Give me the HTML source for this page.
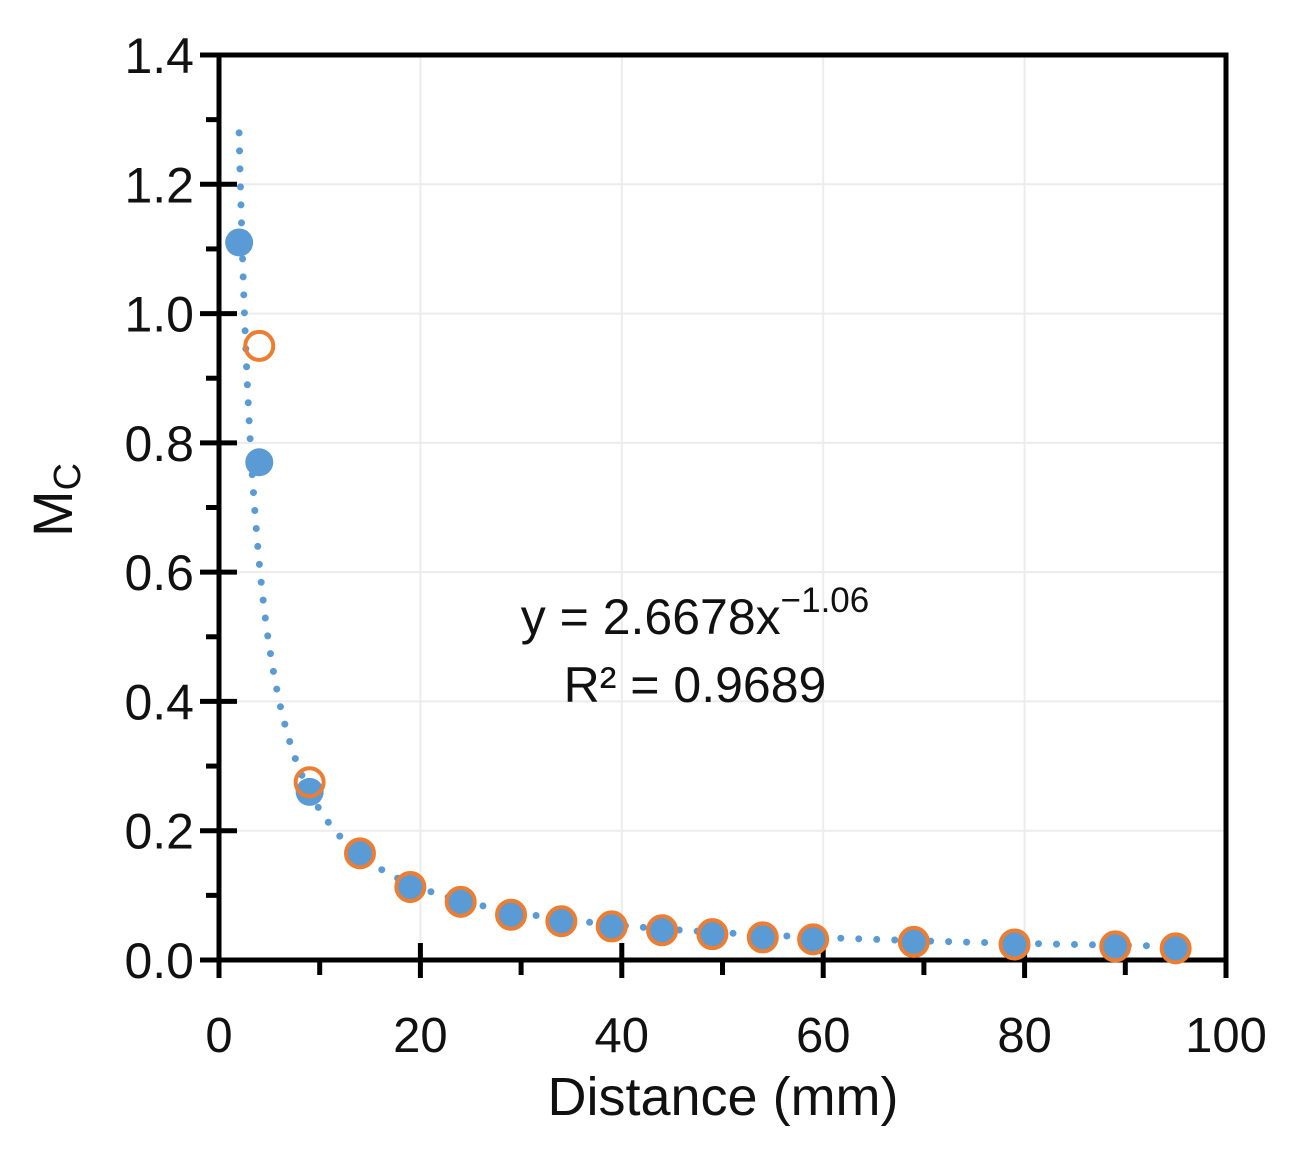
<!DOCTYPE html>
<html><head><meta charset="utf-8"><style>
body{margin:0;background:#fff;}
svg text{font-family:"Liberation Sans","DejaVu Sans",sans-serif;fill:#111;}
</style></head><body>
<svg id="chart" width="1301" height="1157" viewBox="0 0 1301 1157" xmlns="http://www.w3.org/2000/svg">
<g id="grid"></g>
<g id="axes"></g>
<path id="trend" fill="none" stroke="#5b9bd5" stroke-width="7" stroke-linecap="round" stroke-dasharray="0 18"/>
<g id="pts"></g>
<text x="695" y="634" font-size="50" text-anchor="middle">y = 2.6678x<tspan dy="-22" font-size="35">−1.06</tspan></text>
<text x="695" y="702" font-size="50" text-anchor="middle">R² = 0.9689</text>
<text x="723" y="1115" font-size="54" text-anchor="middle">Distance (mm)</text>
<text transform="translate(72,500) rotate(-90)" font-size="56" text-anchor="middle">M<tspan font-size="38" dy="8">C</tspan></text>
</svg>
<script>
const xTicks=[0,20,40,60,80,100];
const yTicks=[0,0.2,0.4,0.6,0.8,1.0,1.2,1.4];
const blueX=[2,4,9,14,19,24,29,34,39,44,49,54,59,69,79,89,95];
const blueY=[1.11,0.77,0.26,0.165,0.11,0.088,0.07,0.06,0.05,0.046,0.04,0.036,0.032,0.027,0.024,0.021,0.018];
const orangeX=[4,9,14,19,24,29,34,39,44,49,54,59,69,79,89,95];
const orangeY=[0.95,0.275,0.165,0.113,0.09,0.07,0.06,0.052,0.046,0.04,0.035,0.032,0.028,0.024,0.021,0.018];
const fitA=2.6678, fitB=-1.06;
const X0=219,X1=1226,Y0=960,Y1=55;
const sx=v=>X0+(v/100)*(X1-X0);
const sy=v=>Y0-(v/1.4)*(Y0-Y1);
const NS="http://www.w3.org/2000/svg";
function mk(tag,attrs,parent){const e=document.createElementNS(NS,tag);for(const k in attrs)e.setAttribute(k,attrs[k]);parent.appendChild(e);return e;}
const grid=document.getElementById('grid'),axes=document.getElementById('axes'),pts=document.getElementById('pts');
xTicks.forEach(t=>{if(t>0&&t<100){const l=mk('line',{x1:sx(t),x2:sx(t),y1:Y1,y2:Y0,stroke:'#ececec','stroke-width':2},grid);

}});
yTicks.forEach(t=>{if(t>0&&t<1.4){const l=mk('line',{x1:X0,x2:X1,y1:sy(t),y2:sy(t),stroke:'#ececec','stroke-width':2},grid);

}});
mk('rect',{x:X0,y:Y1,width:X1-X0,height:Y0-Y1,fill:'none',stroke:'#000','stroke-width':5},axes);
mk('line',{x1:200,x2:X0,y1:Y1,y2:Y1,stroke:'#000','stroke-width':5},axes);
mk('line',{x1:200,x2:X0,y1:Y0,y2:Y0,stroke:'#000','stroke-width':5},axes);
mk('line',{x1:X0,x2:X0,y1:Y0,y2:978,stroke:'#000','stroke-width':5},axes);
yTicks.forEach(t=>{mk('line',{x1:200,x2:237,y1:sy(t),y2:sy(t),stroke:'#000','stroke-width':5},axes);
const tx=mk('text',{x:194,y:sy(t)+18,'font-size':50,'text-anchor':'end'},axes);tx.textContent=t.toFixed(1);


if(t<1.4)mk('line',{x1:206,x2:X0,y1:sy(t+0.1),y2:sy(t+0.1),stroke:'#000','stroke-width':5},axes);});
xTicks.forEach(t=>{mk('line',{x1:sx(t),x2:sx(t),y1:943,y2:978,stroke:'#000','stroke-width':5},axes);
const tx=mk('text',{x:sx(t),y:1052,'font-size':49,'text-anchor':'middle'},axes);tx.textContent=t;


if(t<100)mk('line',{x1:sx(t+10),x2:sx(t+10),y1:Y0,y2:975,stroke:'#000','stroke-width':5},axes);});
let d='';for(let x=2;x<=95;x+=0.1){d+=(d?'L':'M')+sx(x).toFixed(1)+','+sy(fitA*Math.pow(x,fitB)).toFixed(1);}
document.getElementById('trend').setAttribute('d',d);
blueX.forEach((x,i)=>{const c=mk('circle',{cx:sx(x),cy:sy(blueY[i]),r:14,fill:'#5b9bd5'},pts);

});
orangeX.forEach((x,i)=>{const c=mk('circle',{cx:sx(x),cy:sy(orangeY[i]),r:14,fill:'none',stroke:'#ed7d31','stroke-width':4},pts);

});
</script>
</body></html>
